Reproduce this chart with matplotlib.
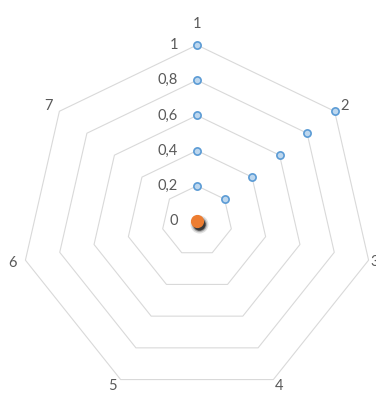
import numpy as np
import matplotlib
matplotlib.use("Agg")
import matplotlib.pyplot as plt

# radar categories and ring levels
categories = ["1", "2", "3", "4", "5", "6", "7"]
levels = [0.2, 0.4, 0.6, 0.8, 1.0]
level_labels = ["0", "0,2", "0,4", "0,6", "0,8", "1"]

# blue series: points on axis 1 and axis 2
blue_cat = [0, 0, 0, 0, 0, 1, 1, 1, 1, 1]
blue_val = [0.2, 0.4, 0.6, 0.8, 1.0, 0.2, 0.4, 0.6, 0.8, 1.0]
# orange point at the centre
orange_val = [0.0]

n = len(categories)
ang = np.arange(n) * 2 * np.pi / n


def xy(k, r):
    k = np.asarray(k)
    r = np.asarray(r)
    return r * np.sin(ang[k]), r * np.cos(ang[k])


plt.rcParams['font.family'] = ['Lato', 'DejaVu Sans']
W, H = 376, 393
fig = plt.figure(figsize=(W / 100, H / 100), dpi=100)
ax = fig.add_axes([0, 0, 1, 1])
cx, cy, s = 197, 221, 176
ax.set_xlim(-cx / s, (W - cx) / s)
ax.set_ylim(-(H - cy) / s, cy / s)
ax.axis('off')

grid_c = '#d9d9d9'
idx = list(range(n)) + [0]
for lv in levels:
    gx, gy = xy(idx, [lv] * len(idx))
    ax.plot(gx, gy, color=grid_c, lw=0.8, zorder=1)

# ring value labels
for i, lab in enumerate(level_labels):
    r = i * 0.2
    ax.text(-19 / s, r, lab, ha='right', va='center', fontsize=10.5,
            color='#595959')

# category labels, pixel offsets from the outer vertex
offs = [(0, 21), (10, 5), (6, -2), (6, -6), (-8, -6), (-13, -3), (-11, 5)]
for k, c in enumerate(categories):
    lx, ly = xy(k, 1.0)
    ax.text(lx + offs[k][0] / s, ly + offs[k][1] / s, c, ha='center',
            va='center', fontsize=10.5, color='#595959')

# blue markers
bx, by = xy(blue_cat, blue_val)
ax.plot(bx, by, ls='none', marker='o', ms=5.2, mfc='#bdd7ee', mec='#5b9bd5',
        mew=1.2, zorder=3)

# orange marker with soft shadow
ox, oy = xy([0], orange_val)
for r, a in [(13, 0.12), (11, 0.2), (9.5, 0.35), (8.5, 0.5)]:
    ax.plot(ox + 1.5 / s, oy - 2.5 / s, ls='none', marker='o', ms=r,
            mfc='black', mec='none', alpha=a, zorder=3)
ax.plot(ox, oy, ls='none', marker='o', ms=8.5, mfc='#ed7d31', mec='#ed7d31',
        zorder=4)

fig.savefig("out.png", dpi=100)
